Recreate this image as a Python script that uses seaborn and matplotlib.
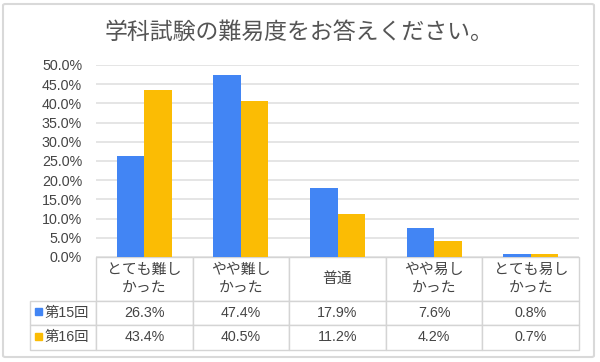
import pandas as pd
import matplotlib.pyplot as plt
import seaborn as sns
from matplotlib.table import Table
from matplotlib.patches import Rectangle, FancyBboxPatch
from matplotlib.ticker import FuncFormatter

# Data
title = "学科試験の難易度をお答えください。"
categories = ["とても難し\nかった", "やや難し\nかった", "普通", "やや易し\nかった", "とても易し\nかった"]
series = ["第15回", "第16回"]
values_15 = [26.3, 47.4, 17.9, 7.6, 0.8]
values_16 = [43.4, 40.5, 11.2, 4.2, 0.7]
colors = ["#4285F4", "#FBBC04"]

df = pd.DataFrame({
    "category": categories * 2,
    "series": [series[0]] * 5 + [series[1]] * 5,
    "value": values_15 + values_16,
})

sns.set_theme(style="white")
plt.rcParams["font.family"] = ["Liberation Sans", "Noto Sans CJK JP"]

text_color = "#444444"
fs = 10.3

fig = plt.figure(figsize=(6, 3.62), dpi=100)
# plot area in pixels: x 96..579, y 65..257
W, H = 600, 362
ax = fig.add_axes([96 / W, 1 - 257 / H, 483 / W, 192 / H])

sns.barplot(data=df, x="category", y="value", hue="series", palette=colors,
            width=0.57, saturation=1, linewidth=0, legend=False, ax=ax)

ax.set_ylim(0, 50)
ax.set_yticks(range(0, 51, 5))
ax.yaxis.set_major_formatter(FuncFormatter(lambda v, p: f"{v:.1f}%"))
ax.set_xticks(range(len(categories)))
ax.set_xticklabels([])
ax.set_xlabel("")
ax.set_ylabel("")
ax.tick_params(axis="x", length=0)
ax.tick_params(axis="y", length=0, pad=10, labelsize=fs, labelcolor=text_color)
ax.yaxis.grid(True, color="#e0e0e0", linewidth=1.2)
ax.set_axisbelow(True)
for s in ax.spines.values():
    s.set_visible(False)

# Data table below the plot
px_w, px_h = 483, 192
lab_w, col_w = 66, 96.6
head_h, row_h = 43.5, 24.5
line_gap = 18
tb_left = -lab_w / px_w
tb_h = (head_h + 2 * row_h) / px_h
tbl = Table(ax, bbox=[tb_left, -tb_h, 1 - tb_left, tb_h])
for j, cat in enumerate(categories):
    tbl.add_cell(0, j + 1, width=col_w, height=head_h, text="", loc="center")
    # header labels: one text per line so each line is centred
    lines = cat.split("\n")
    for k, line in enumerate(lines):
        dy = (k - (len(lines) - 1) / 2) * line_gap
        ax.text((j + 0.5) / len(categories), -(head_h / 2 + dy) / px_h, line,
                transform=ax.transAxes, ha="center", va="center",
                fontsize=10.7, color=text_color, family=["Noto Sans CJK JP"])
rows = [values_15, values_16]
for i, (name, vals) in enumerate(zip(series, rows)):
    tbl.add_cell(i + 1, 0, width=lab_w, height=row_h, text=name, loc="right")
    for j, v in enumerate(vals):
        tbl.add_cell(i + 1, j + 1, width=col_w, height=row_h, text=f"{v:.1f}%", loc="center")
tbl.auto_set_font_size(False)
tbl.set_fontsize(fs)
for (r, c), cell in tbl.get_celld().items():
    cell.set_edgecolor("#d4d4d4")
    cell.set_linewidth(1)
    cell.get_text().set_color(text_color)
ax.add_table(tbl)

# colour squares for the row labels
sq = 7
for i, col in enumerate(colors):
    y_bottom = [315, 340][i]
    ax.add_patch(Rectangle(((35 - 96) / px_w, (257 - y_bottom) / px_h), sq / px_w, sq / px_h,
                           transform=ax.transAxes, color=col, clip_on=False))

# title and frame
fig.text(0.498, 1 - 32 / H, title, ha="center", va="center", fontsize=16.5,
         color="#555555", family=["Noto Sans CJK JP"])
fig.patches.append(FancyBboxPatch((3 / W, 5 / H), 591 / W, 353 / H,
                                  boxstyle="round,pad=0,rounding_size=0.004",
                                  transform=fig.transFigure, fill=False,
                                  edgecolor="#d9d9d9", linewidth=1.5))

plt.savefig("out.png", dpi=100)
